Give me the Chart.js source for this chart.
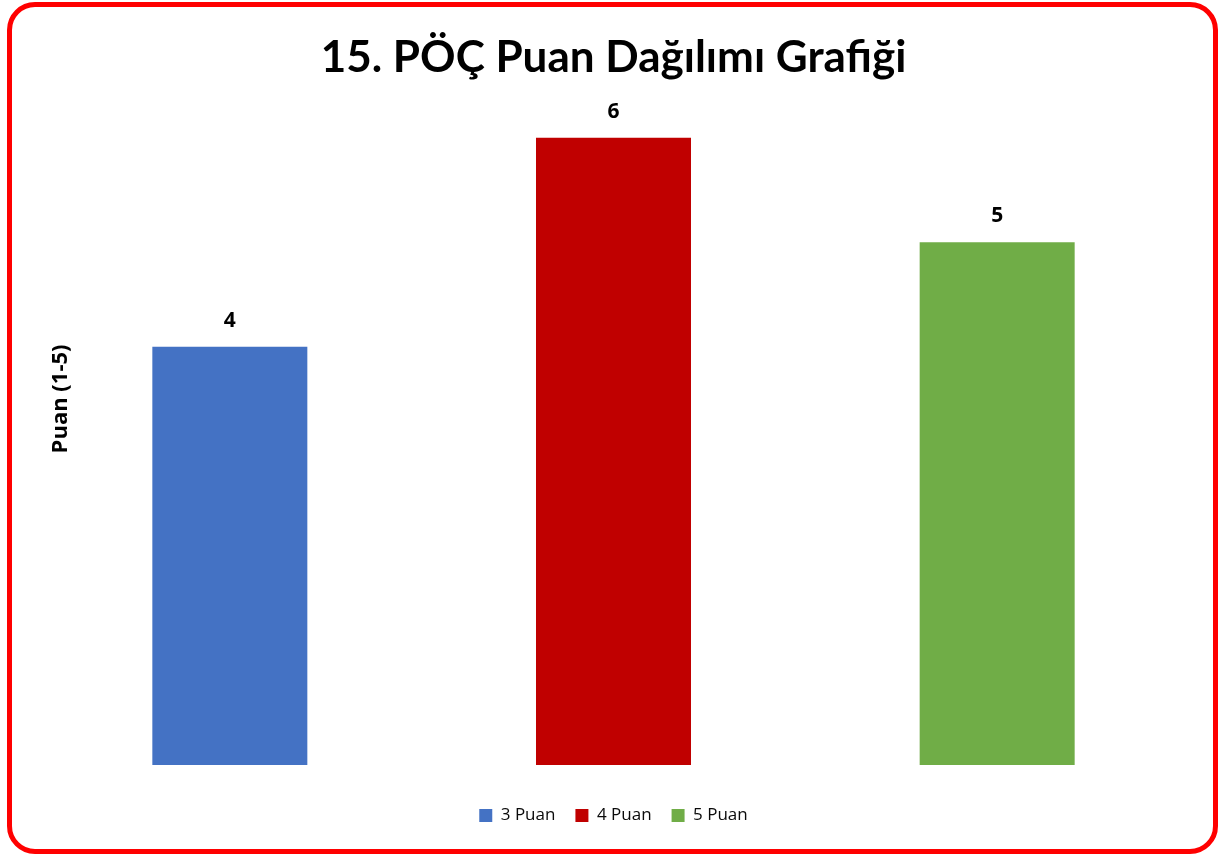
<!DOCTYPE html>
<html>
<head>
<meta charset="utf-8">
<script src="https://cdn.jsdelivr.net/npm/chart.js@4.4.1/dist/chart.umd.min.js"></script>
<style>
  html, body { margin: 0; padding: 0; background: #ffffff; }
  #wrap { position: relative; width: 1219px; height: 856px; }
  #chart { position: absolute; left: 0; top: 0; }
  #frame { position: absolute; left: 7px; top: 2px; width: 1201px; height: 842px;
           border: 5px solid #ff0000; border-radius: 28px; pointer-events: none; }
</style>
</head>
<body>
<div id="wrap">
  <canvas id="chart" width="1219" height="856"></canvas>
  <div id="frame"></div>
</div>
<script>
const titleText = "15. PÖÇ Puan Dağılımı Grafiği";
const yAxisTitle = "Puan (1-5)";
const categories = ["3 Puan", "4 Puan", "5 Puan"];
const seriesNames = ["3 Puan", "4 Puan", "5 Puan"];
const values = [4, 6, 5];
const colors = ["#4472C4", "#C00000", "#70AD47"];

const datasets = seriesNames.map((name, i) => ({
  label: name,
  data: categories.map((c, j) => (j === i ? values[i] : null)),
  backgroundColor: colors[i],
  borderWidth: 0,
  grouped: false,
  skipNull: true,
  categoryPercentage: 1,
  barPercentage: 0.404
}));

const valueLabels = {
  id: "valueLabels",
  afterDatasetsDraw(chart) {
    const ctx = chart.ctx;
    ctx.save();
    ctx.font = "bold 21px 'Open Sans', Lato, sans-serif";
    ctx.fillStyle = "#000000";
    ctx.textAlign = "center";
    ctx.textBaseline = "middle";
    chart.data.datasets.forEach((ds, di) => {
      const meta = chart.getDatasetMeta(di);
      meta.data.forEach((el, idx) => {
        const v = ds.data[idx];
        if (v === null || v === undefined) return;
        ctx.fillText(String(v), el.x, el.y - 26);
      });
    });
    ctx.restore();
  }
};

const yTitlePlugin = {
  id: "yTitlePlugin",
  afterDraw(chart) {
    const ctx = chart.ctx;
    const area = chart.chartArea;
    ctx.save();
    ctx.translate(area.left + 23, area.top + (area.bottom - area.top) * 0.437);
    ctx.rotate(-Math.PI / 2);
    ctx.font = "bold 22px 'Open Sans', Lato, sans-serif";
    ctx.fillStyle = "#000000";
    ctx.textAlign = "center";
    ctx.textBaseline = "middle";
    ctx.fillText(yAxisTitle, 0, 0);
    ctx.restore();
  }
};

new Chart(document.getElementById("chart"), {
  type: "bar",
  data: { labels: categories, datasets },
  options: {
    responsive: false,
    animation: false,
    layout: { padding: { left: 38, right: 30, top: 0, bottom: 22 } },
    plugins: {
      title: {
        display: true,
        text: titleText,
        color: "#000000",
        font: { family: "Lato, 'Open Sans', sans-serif", size: 44, weight: "bold" },
        padding: { top: 31, bottom: 31 }
      },
      legend: {
        position: "bottom",
        labels: {
          boxWidth: 13,
          boxHeight: 13,
          color: "#0a0a0a",
          padding: 20,
          font: { family: "'Open Sans', Lato, sans-serif", size: 17 }
        }
      },
      tooltip: { enabled: false }
    },
    scales: {
      x: {
        display: true,
        grid: { display: false },
        border: { display: false },
        ticks: { display: false },
        afterFit(scale) { scale.height = 22; }
      },
      y: {
        display: false,
        min: 0,
        max: 6.22,
        grid: { display: false }
      }
    }
  },
  plugins: [valueLabels, yTitlePlugin]
});
</script>
</body>
</html>
